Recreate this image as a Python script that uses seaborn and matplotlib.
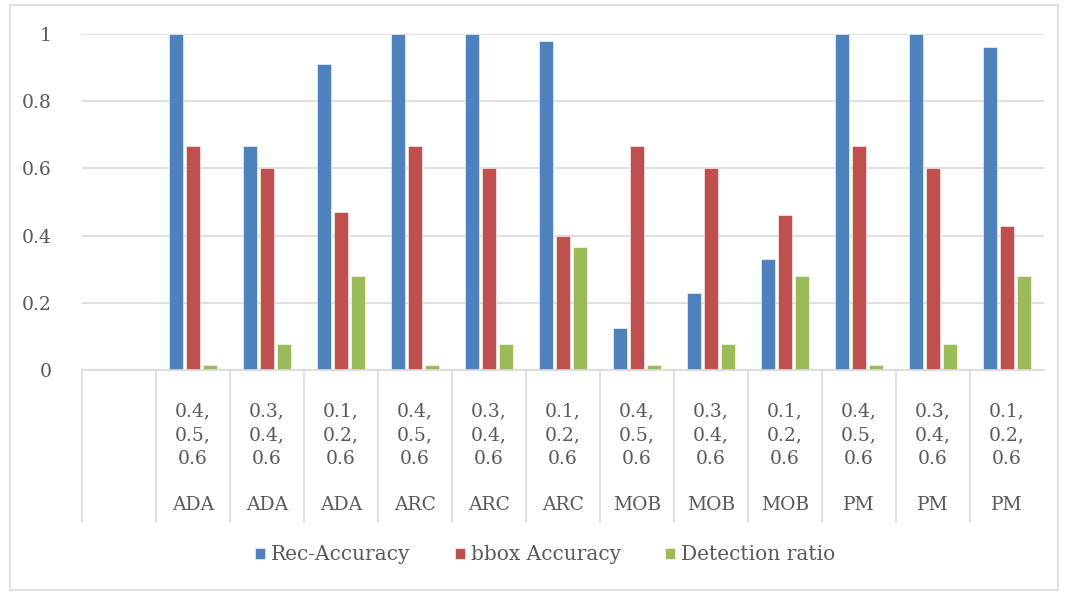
import pandas as pd
import seaborn as sns
import matplotlib.pyplot as plt
from matplotlib.patches import Rectangle

# data
models = ["ADA", "ADA", "ADA", "ARC", "ARC", "ARC", "MOB", "MOB", "MOB", "PM", "PM", "PM"]
thresholds = ["0.4,\n0.5,\n0.6", "0.3,\n0.4,\n0.6", "0.1,\n0.2,\n0.6"] * 4
rec_accuracy = [1.0, 0.667, 0.91, 1.0, 1.0, 0.98, 0.125, 0.23, 0.33, 1.0, 1.0, 0.96]
bbox_accuracy = [0.667, 0.6, 0.47, 0.667, 0.6, 0.4, 0.667, 0.6, 0.46, 0.667, 0.6, 0.43]
detection_ratio = [0.016, 0.077, 0.28, 0.016, 0.077, 0.367, 0.016, 0.077, 0.28, 0.016, 0.077, 0.28]
series_names = ["Rec-Accuracy", "bbox Accuracy", "Detection ratio"]
colors = ["#4f81bd", "#c0504d", "#9bbb59"]

# long form table for seaborn
slots = [str(i) for i in range(len(models))]
rows = []
for name, vals in zip(series_names, [rec_accuracy, bbox_accuracy, detection_ratio]):
    for s, v in zip(slots, vals):
        rows.append({"slot": s, "series": name, "value": v})
df = pd.DataFrame(rows)

sns.set_style("white")
plt.rcParams["font.family"] = ["DejaVu Serif"]
text_col = "#595959"
grid_col = "#d9d9d9"
fs = 13.5

fig = plt.figure(figsize=(10.65, 5.92), dpi=100)
ax = fig.add_axes([82 / 1065, 1 - 370 / 592, (1044 - 82) / 1065, (370 - 34) / 592])

sns.barplot(data=df, x="slot", y="value", hue="series", order=slots,
            hue_order=series_names, palette=colors, saturation=1, width=0.69, gap=0.22,
            edgecolor="white", linewidth=0.4, ax=ax, legend=True)

ax.set_xlim(-1.5, len(models) - 0.5)
ax.set_ylim(0, 1)
ax.set_yticks([0, 0.2, 0.4, 0.6, 0.8, 1.0])
ax.set_yticklabels(["0", "0.2", "0.4", "0.6", "0.8", "1"])
ax.yaxis.grid(True, color=grid_col, linewidth=1.2)
ax.set_axisbelow(True)
ax.tick_params(axis="y", length=0, pad=22, labelsize=fs, labelcolor=text_col)
ax.set_xticks([])
ax.set_xlabel("")
ax.set_ylabel("")
for side in ["top", "right", "left"]:
    ax.spines[side].set_visible(False)
ax.spines["bottom"].set_color(grid_col)
ax.spines["bottom"].set_linewidth(1.2)

# category table below the axis
trans = ax.get_xaxis_transform()
depth = -(522 - 370) / 336
for b in range(-1, len(models)):
    ax.plot([b - 0.5, b - 0.5], [0, depth], color=grid_col, lw=1.2,
            transform=trans, clip_on=False)
for i, (m, t) in enumerate(zip(models, thresholds)):
    ax.text(i, -(435 - 370) / 336, t, transform=trans, ha="center", va="center",
            fontsize=fs, color=text_col, linespacing=1.4)
    ax.text(i, -(505 - 370) / 336, m, transform=trans, ha="center", va="center",
            fontsize=fs, color=text_col)

# legend at the bottom
handles, labels = ax.get_legend_handles_labels()
ax.get_legend().remove()
fig.legend(handles, labels, loc="center", bbox_to_anchor=(545 / 1065, 1 - 555 / 592),
           ncol=3, frameon=False, fontsize=14.5, labelcolor=text_col,
           handlelength=0.5, handleheight=0.5, handletextpad=0.3, columnspacing=2.2)

# outer chart border
fig.patches.append(Rectangle((10 / 1065, 2 / 592), 1048 / 1065, 585 / 592,
                             transform=fig.transFigure, fill=False,
                             edgecolor=grid_col, lw=1.2))

fig.savefig("out.png", dpi=100)
